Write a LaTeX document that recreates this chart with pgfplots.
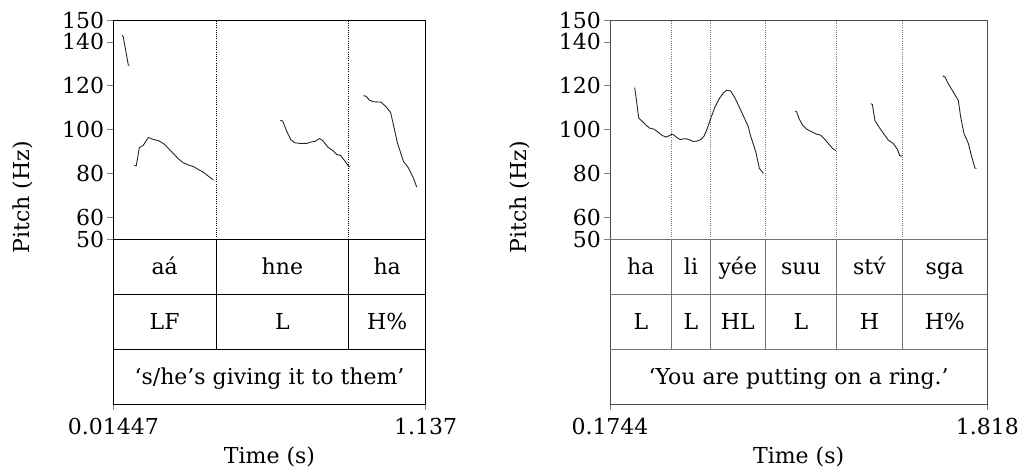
\documentclass[border=0pt]{standalone}
\usepackage{pgfplots}
\pgfplotsset{compat=1.18}
\usepackage{fontspec}
\setmainfont{DejaVu Serif}
\definecolor{gline}{gray}{0.45}
\definecolor{curve}{gray}{0.15}
\begin{document}
\begin{tikzpicture}[font=\fontsize{22}{26}\selectfont]
\useasboundingbox (0,0) rectangle (1027pt,472pt);
\pgfplotsset{praat/.style={
  scale only axis, height=384.3pt, ymin=-25, ymax=150,
  ytick={50,60,80,100,120,140,150},
  ytick pos=left, xtick pos=bottom, tick align=outside,
  major tick length=6pt,
  /pgf/number format/assume math mode=true,
  anchor=south west, clip=false,
  axis line style={line width=1pt},
  tick style={line width=0.8pt},
  ylabel={Pitch (Hz)}, xlabel={Time (s)},
  xlabel style={at={(rel axis cs:0.5,0)}, anchor=center, yshift=-53pt},
  xticklabel style={yshift=-4pt},
  yticklabel style={inner xsep=3pt},
}}
% ---------------- left panel ----------------
\begin{axis}[praat, at={(113.3pt,67.7pt)}, width=312.4pt,
  xmin=0.01447, xmax=1.137, xtick={0.01447,1.137}, xticklabels={0.01447,1.137},
  ylabel style={at={(rel axis cs:-0.288,0.539)}, anchor=center}]
\draw[line width=0.8pt] (axis cs:0.01447,50) -- (axis cs:1.137,50);
\draw[line width=0.8pt] (axis cs:0.01447,25) -- (axis cs:1.137,25);
\draw[line width=0.8pt] (axis cs:0.01447,0) -- (axis cs:1.137,0);
\pgfplotsinvokeforeach{0.3835,0.8603}{
  \draw[line width=0.8pt, dash pattern=on 1pt off 1.2pt] (axis cs:#1,50) -- (axis cs:#1,150);
  \draw[line width=0.8pt] (axis cs:#1,0) -- (axis cs:#1,50);
}
\node[anchor=base] at (axis cs:0.1990,34.1) {aá};
\node[anchor=base] at (axis cs:0.6219,34.1) {hne};
\node[anchor=base] at (axis cs:0.9987,34.1) {ha};
\node[anchor=base] at (axis cs:0.1990,9.0) {LF};
\node[anchor=base] at (axis cs:0.6219,9.0) {L};
\node[anchor=base] at (axis cs:0.9987,9.0) {H\%};
\node[anchor=base] at (axis cs:0.5757,-16.0) {‘s/he’s giving it to them’};
\addplot[no marks, curve, line width=0.9pt] coordinates {
(0.0456,143.0) (0.0500,142.5) (0.0684,129.5) (0.0720,129.3)};
\addplot[no marks, curve, line width=0.9pt] coordinates {
(0.0900,83.7) (0.0971,83.7) (0.1079,91.8) (0.1223,93.0) (0.1403,96.5) (0.1582,95.6)
(0.1762,95.1) (0.1942,93.8) (0.2122,91.6) (0.2301,89.2) (0.2481,86.8) (0.2661,85.0)
(0.2840,84.0) (0.3020,83.3) (0.3200,81.9) (0.3380,80.7) (0.3559,78.9) (0.3739,77.2)};
\addplot[no marks, curve, line width=0.9pt] coordinates {
(0.6147,104.3) (0.6231,104.0) (0.6375,99.4) (0.6519,95.6) (0.6662,94.1) (0.6854,93.8)
(0.7094,93.8) (0.7274,94.5) (0.7393,94.7) (0.7549,96.0) (0.7669,95.1) (0.7848,92.2)
(0.8028,90.6) (0.8171,88.8) (0.8315,88.3) (0.8471,85.7) (0.8603,83.4) (0.8651,83.1)};
\addplot[no marks, curve, line width=0.9pt] coordinates {
(0.9130,115.5) (0.9226,115.3) (0.9345,113.5) (0.9489,112.8) (0.9765,112.6) (0.9944,110.5)
(1.0112,107.8) (1.0208,102.4) (1.0352,94.1) (1.0568,85.7) (1.0747,82.7) (1.0927,78.1)
(1.1047,73.9)};
\end{axis}
% ---------------- right panel ----------------
\begin{axis}[praat, at={(610pt,67.7pt)}, width=377.3pt,
  xmin=0.1744, xmax=1.818, xtick={0.1744,1.818}, xticklabels={0.1744,1.818},
  axis line style={line width=1pt, gray!60!black},
  ylabel style={at={(rel axis cs:-0.2385,0.539)}, anchor=center}]
\draw[line width=0.8pt, gline] (axis cs:0.1744,50) -- (axis cs:1.818,50);
\draw[line width=0.8pt, gline] (axis cs:0.1744,25) -- (axis cs:1.818,25);
\draw[line width=0.8pt, gline] (axis cs:0.1744,0) -- (axis cs:1.818,0);
\pgfplotsinvokeforeach{0.4431,0.6112,0.8508,1.1618,1.4475}{
  \draw[line width=0.8pt, gline, dash pattern=on 1pt off 1.2pt] (axis cs:#1,50) -- (axis cs:#1,150);
  \draw[line width=0.8pt, gline] (axis cs:#1,0) -- (axis cs:#1,50);
}
\node[anchor=base] at (axis cs:0.3088,34.1) {ha};
\node[anchor=base] at (axis cs:0.5272,34.1) {li};
\node[anchor=base] at (axis cs:0.7310,34.1) {yée};
\node[anchor=base] at (axis cs:1.0063,34.1) {suu};
\node[anchor=base] at (axis cs:1.3047,34.1) {stv́};
\node[anchor=base] at (axis cs:1.6328,34.1) {sga};
\node[anchor=base] at (axis cs:0.3088,9.0) {L};
\node[anchor=base] at (axis cs:0.5272,9.0) {L};
\node[anchor=base] at (axis cs:0.7310,9.0) {HL};
\node[anchor=base] at (axis cs:1.0063,9.0) {L};
\node[anchor=base] at (axis cs:1.3047,9.0) {H};
\node[anchor=base] at (axis cs:1.6328,9.0) {H\%};
\node[anchor=base] at (axis cs:0.9962,-16.0) {‘You are putting on a ring.’};
\addplot[no marks, curve, line width=0.9pt] coordinates {
(0.2818,119.2) (0.2876,115.0) (0.2993,105.4) (0.3123,104.1) (0.3268,102.6) (0.3457,100.8)
(0.3660,100.3) (0.3849,98.8) (0.4023,97.4) (0.4183,96.7) (0.4328,97.3) (0.4430,98.0)
(0.4532,97.6) (0.4648,96.5) (0.4793,95.6) (0.4967,95.9) (0.5083,95.9) (0.5229,95.3)
(0.5374,94.7) (0.5548,94.9) (0.5708,95.6) (0.5838,97.1) (0.5983,100.6) (0.6129,105.1)
(0.6317,110.4) (0.6506,114.2) (0.6680,116.8) (0.6825,118.0) (0.7000,117.7) (0.7188,114.5)
(0.7406,109.7) (0.7624,104.7) (0.7769,101.4) (0.7871,97.1) (0.7987,93.5) (0.8103,89.6)
(0.8249,82.5) (0.8423,80.2)};
\addplot[no marks, curve, line width=0.9pt] coordinates {
(0.9817,108.5) (0.9875,108.2) (0.9977,105.1) (1.0136,102.1) (1.0310,100.3) (1.0528,99.1)
(1.0746,98.0) (1.0920,97.6) (1.1065,96.1) (1.1254,93.8) (1.1443,91.5) (1.1588,90.5)};
\addplot[no marks, curve, line width=0.9pt] coordinates {
(1.3098,111.9) (1.3171,111.6) (1.3287,104.1) (1.3504,100.6) (1.3679,98.0) (1.3867,95.3)
(1.4085,93.8) (1.4259,91.1) (1.4375,88.1) (1.4477,88.1)};
\addplot[no marks, curve, line width=0.9pt] coordinates {
(1.6234,124.6) (1.6336,124.0) (1.6481,121.0) (1.6699,117.2) (1.6917,113.4) (1.7018,105.9)
(1.7164,98.3) (1.7353,93.8) (1.7498,87.8) (1.7643,82.5) (1.7716,82.5)};
\end{axis}
\end{tikzpicture}
\end{document}
